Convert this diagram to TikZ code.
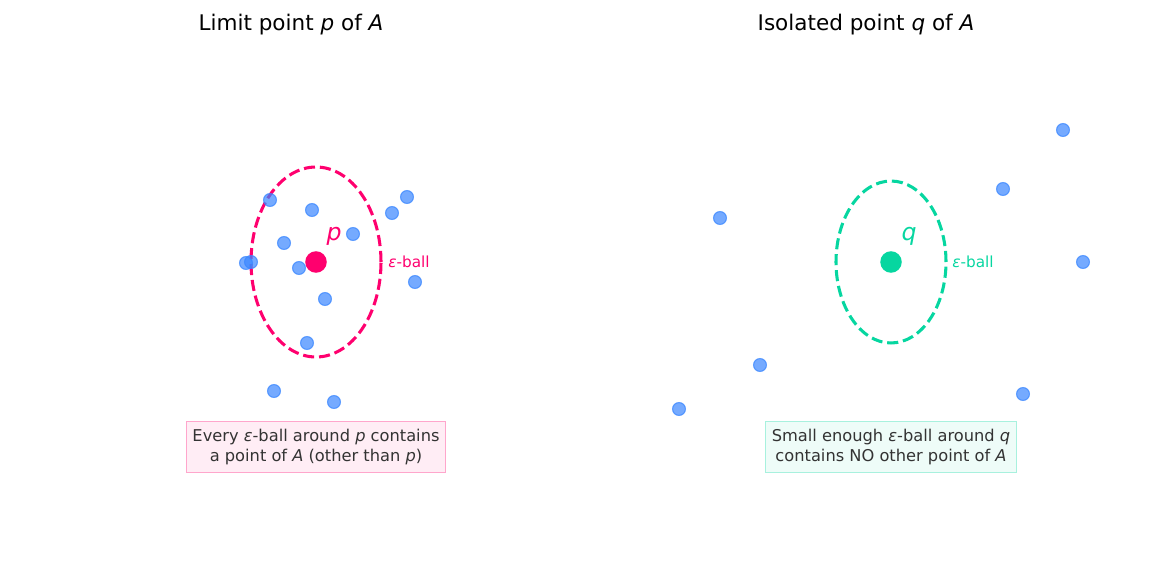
\documentclass[tikz,border=0pt]{standalone}
\usepackage{fontspec}
\setmainfont{DejaVu Sans}
\usepackage{xcolor}
\usepackage{tikz}
\usetikzlibrary{shapes.geometric}

\definecolor{limpink}{HTML}{FF006E}
\definecolor{isogreen}{HTML}{06D6A0}
\definecolor{setblue}{HTML}{3A86FF}
\definecolor{txtgray}{HTML}{333333}

\begin{document}
\begin{tikzpicture}[
  x=0.72pt, y=-0.72pt,
  ttl/.style={font=\fontsize{15.5}{18}\selectfont},
  apt/.style={circle, fill=setblue, draw=setblue, fill opacity=0.7,
              draw opacity=0.75, line width=0.8pt, minimum size=9.3pt, inner sep=0pt},
  ctr/.style={circle, minimum size=15.5pt, inner sep=0pt},
  ball/.style={ellipse, dash pattern=on 8pt off 3.5pt, line width=2.2pt, inner sep=0pt},
  ptlbl/.style={font=\fontsize{17}{19}\selectfont},
  blbl/.style={font=\fontsize{11}{13}\selectfont, anchor=west, inner sep=0pt},
  note/.style={rectangle, draw, line width=0.8pt, align=center, text=txtgray,
               font=\fontsize{11.7}{15}\selectfont, inner xsep=4.5pt, inner ysep=5pt}
]
\useasboundingbox (0,0) rectangle (1156,569);

% left panel: limit point
\node[ttl] (TL) at (291,25) {Limit point \textit{p} of \textit{A}};
\node[ball, draw=limpink, minimum width=93.6pt, minimum height=136.8pt] (BP) at (316,262) {};
\foreach \n/\x/\y in {a1/270/200, a2/312/210, a3/392/213, a4/407/197, a5/353/234,
                      a6/284/243, a7/246/263, a8/251/262, a9/299/268, a10/415/282,
                      a11/325/299, a12/307/343, a13/274/391, a14/334/402}
  \node[apt] (\n) at (\x,\y) {};
\node[ctr, fill=limpink] (P) at (316,262) {};
\node[ptlbl, text=limpink] (LP) at (334,236) {\textit{p}};
\node[blbl, text=limpink] (EP) at (388,262) {\textit{ε}-ball};
\node[note, fill=limpink!7, draw=limpink!35] (NP) at (316,447)
  {Every \textit{ε}-ball around \textit{p} contains\\a point of \textit{A} (other than \textit{p})};

% right panel: isolated point
\node[ttl] (TR) at (866,25) {Isolated point \textit{q} of \textit{A}};
\node[ball, draw=isogreen, minimum width=79.2pt, minimum height=116.6pt] (BQ) at (891,262) {};
\foreach \n/\x/\y in {b1/720/218, b2/1063/130, b3/1003/189, b4/1083/262,
                      b5/760/365, b6/679/409, b7/1023/394}
  \node[apt] (\n) at (\x,\y) {};
\node[ctr, fill=isogreen] (Q) at (891,262) {};
\node[ptlbl, text=isogreen] (LQ) at (909,236) {\textit{q}};
\node[blbl, text=isogreen] (EQ) at (952,262) {\textit{ε}-ball};
\node[note, fill=isogreen!7, draw=isogreen!35] (NQ) at (891,447)
  {Small enough \textit{ε}-ball around \textit{q}\\contains NO other point of \textit{A}};
\end{tikzpicture}
\end{document}
